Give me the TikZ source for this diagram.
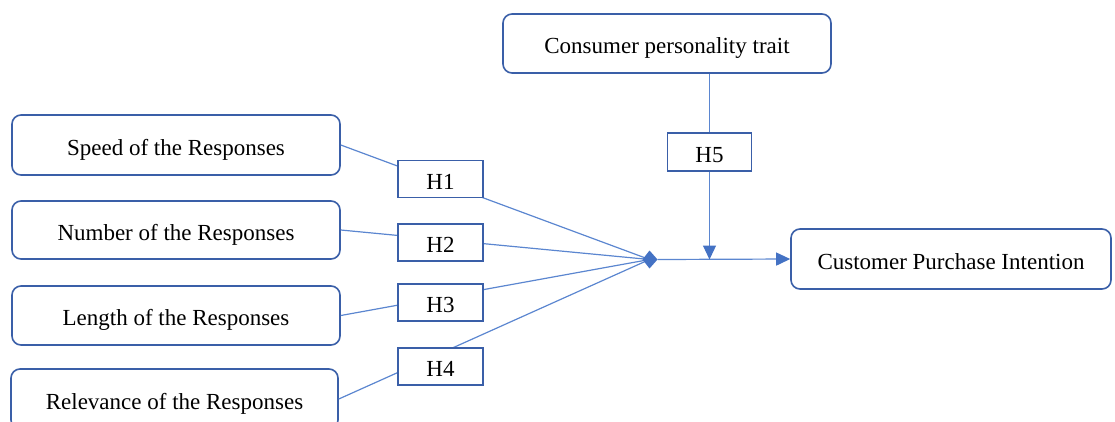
\documentclass[tikz,border=0pt]{standalone}
\usepackage{fontspec}
\setmainfont{Liberation Serif}
\usetikzlibrary{arrows.meta}
\definecolor{boxblue}{HTML}{3A5FA8}
\definecolor{lineblue}{HTML}{5B86D0}
\definecolor{tipblue}{HTML}{4472C4}
\begin{document}
\begin{tikzpicture}[x=1pt,y=-1pt,
  every node/.style={font=\fontsize{23}{27}\selectfont, inner sep=0pt, text height=20pt, text depth=0pt},
  var/.style={draw=boxblue, line width=1.6pt, rounded corners=9pt, fill=white},
  hyp/.style={draw=boxblue, line width=1.6pt, fill=white, minimum width=85pt, minimum height=37pt},
  link/.style={draw=lineblue, line width=1.2pt},
  tip/.style={-{Triangle[length=14pt,width=13pt,color=tipblue]}},
  joinmark/.style={fill=tipblue}]
\useasboundingbox (0,0) rectangle (1115,421);
\clip (0,0) rectangle (1115,421);
\node[var, minimum width=328pt, minimum height=60pt] (speed) at (176,145) {Speed of the Responses};
\node[var, minimum width=328pt, minimum height=58pt] (number) at (176,230) {Number of the Responses};
\node[var, minimum width=328pt, minimum height=59pt] (length) at (176,315.5) {Length of the Responses};
\node[var, minimum width=327pt, minimum height=60pt] (relev) at (174.5,399) {Relevance of the Responses};
\node[var, minimum width=328pt, minimum height=59pt] (consumer) at (667,43.5) {Consumer personality trait};
\node[var, minimum width=320pt, minimum height=60pt] (customer) at (951,259) {Customer Purchase Intention};
\coordinate (join) at (649.5,259.5);
\coordinate (jout) at (657.5,259.5);
\draw[link] (speed.east) -- (join);
\draw[link] (number.east) -- (join);
\draw[link] (length.east) -- (join);
\draw[link] (relev.east) -- (join);
\node[hyp] (h1) at (440.5,179) {H1};
\node[hyp] (h2) at (440.5,242.5) {H2};
\node[hyp] (h3) at (440.5,302.5) {H3};
\node[hyp] (h4) at (440.5,366.5) {H4};
\node[hyp, minimum width=84pt, minimum height=38pt] (h5) at (709.5,152) {H5};
\fill[joinmark] (join) +(-7,0) -- +(0,-9) -- +(8,0) -- +(0,9) -- cycle;
\draw[link, tip] (jout) -- (customer.west);
\draw[link] (h5.north |- consumer.south) -- (h5.north);
\draw[link, tip] (h5.south) -- (h5.south |- join);
\end{tikzpicture}
\end{document}
